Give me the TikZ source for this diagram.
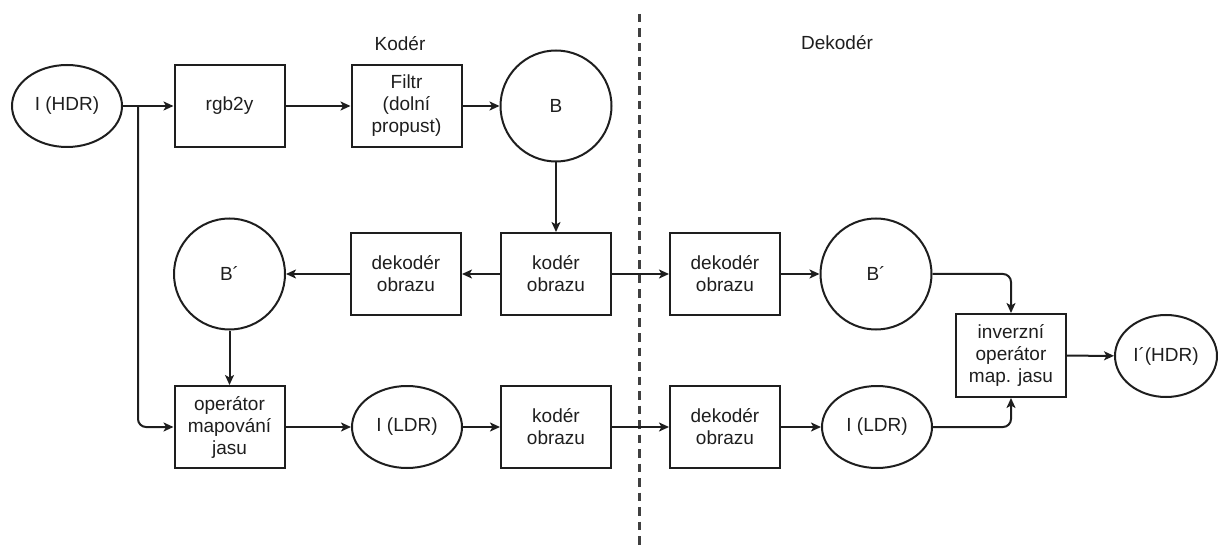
\documentclass[tikz,border=0pt]{standalone}
\usepackage{fontspec}
\setmainfont{Liberation Sans}
\usetikzlibrary{shapes.geometric,arrows.meta}
\definecolor{ink}{HTML}{1E1E1E}
\begin{document}
\begin{tikzpicture}[x=1pt,y=-1pt,
  font=\fontsize{19}{22}\selectfont,
  every node/.style={text=ink},
  block/.style={draw=ink,line width=2pt,rectangle,minimum width=110pt,minimum height=82pt,inner sep=0pt,align=center},
  oval/.style={draw=ink,line width=2pt,ellipse,minimum width=110pt,minimum height=82pt,inner sep=0pt,align=center},
  ring/.style={draw=ink,line width=2pt,circle,minimum size=111pt,inner sep=0pt,align=center},
  arr/.style={draw=ink,line width=2pt,-{Stealth[length=10pt,width=9pt,inset=2.5pt]}},
  divider/.style={draw=ink!85,line width=3pt,dash pattern=on 8.5pt off 6pt}
]
\useasboundingbox (0,0) rectangle (1218,545);

% section titles
\node (tk) at (400,44) {Kodér};
\node (td) at (837,43) {Dekodér};

% encoder / decoder boundary
\coordinate (dtop) at (639,14);
\coordinate (dbot) at (639,545);
\draw[divider] (dtop) -- (dbot);

% top row
\node[oval] (hdr) at (67,106) {I (HDR)};
\node[block] (rgb) at (229.5,106) {rgb2y};
\node[block] (flt) at (406.5,106) {Filtr\\(dolní\\propust)};
\node[ring] (b) at (556,106) {B};

% middle row
\node[ring] (bl) at (229.5,274) {B\textasciiacute};
\node[block] (decl) at (406,274) {dekodér\\obrazu};
\node[block] (encm) at (556,274) {kodér\\obrazu};
\node[block] (decm) at (725,274) {dekodér\\obrazu};
\node[ring] (br) at (876,274) {B\textasciiacute};

% bottom row
\node[block] (op) at (229.5,427) {operátor\\mapování\\jasu};
\node[oval] (ldl) at (407,427) {I (LDR)};
\node[block] (encb) at (556,427) {kodér\\obrazu};
\node[block] (decb) at (725,427) {dekodér\\obrazu};
\node[oval] (ldr) at (877,427) {I (LDR)};

% reconstruction
\node[block,minimum height=83pt] (inv) at (1011,355.5) {inverzní\\operátor\\map. jasu};
\node[oval,minimum width=102pt] (out) at (1166,356) {I\textasciiacute(HDR)};

% connectors
\coordinate (split) at (138,106);
\draw[arr] (hdr) -- (rgb);
\draw[arr,rounded corners=8pt] (split) |- (op.west);
\draw[arr] (rgb) -- (flt);
\draw[arr] (flt) -- (b);
\draw[arr] (b) -- (encm);
\draw[arr] (encm) -- (decl);
\draw[arr] (decl) -- (bl);
\draw[arr] (encm) -- (decm);
\draw[arr] (decm) -- (br);
\draw[arr] (bl) -- (op);
\draw[arr] (op) -- (ldl);
\draw[arr] (ldl) -- (encb);
\draw[arr] (encb) -- (decb);
\draw[arr] (decb) -- (ldr);
\draw[arr,rounded corners=8pt] (br.east) -| (inv.north);
\draw[arr,rounded corners=8pt] (ldr.east) -| (inv.south);
\draw[arr] (inv) -- (out);
\end{tikzpicture}
\end{document}
